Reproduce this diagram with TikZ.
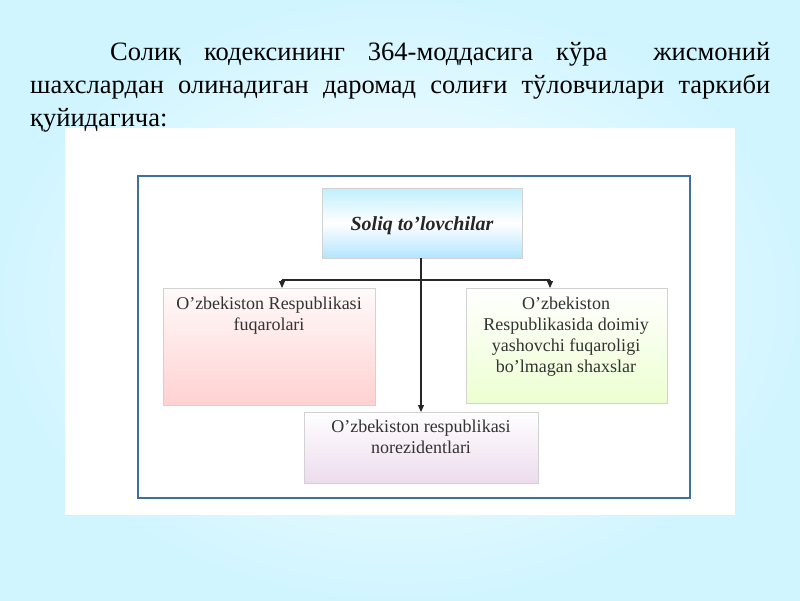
\documentclass[tikz,border=0pt]{standalone}
\usepackage{fontspec}
\setmainfont{Liberation Serif}
\usetikzlibrary{arrows.meta}
\begin{document}
\begin{tikzpicture}[x=1pt,y=-1pt,
  box/.style={draw=gray!35,line width=0.6pt},
  txt/.style={font=\fontsize{18}{21}\selectfont,text=black!80,align=center,anchor=north},
  arr/.style={-{Triangle[length=7pt,width=6pt]},line width=1.1pt,black!85}]
\useasboundingbox (0,0) rectangle (800,600);
\shade[inner color=white, outer color=blue!22!cyan!18] (0,0) rectangle (800,600);
\fill[white] (65,128) rectangle (735,515);
\node[anchor=north west,text width=740pt,align=justify,inner sep=0pt,
  font=\fontsize{26.5}{33}\selectfont] (title) at (30,42)
  {\hspace*{80pt}Солиқ кодексининг 364-моддасига кўра\ \ жисмоний\linebreak шахслардан олинадиган даромад солиғи тўловчилари таркиби\linebreak қуйидагича:};
\draw[draw=cyan!60!blue!70!black,line width=1.5pt] (138,176) rectangle (690,498);
% boxes
\shade[box,top color=blue!25!cyan!25,bottom color=blue!35!cyan!30,middle color=white] (322,188) rectangle (522,258);
\node[font=\fontsize{20}{22}\selectfont\bfseries\itshape,text=black!85] (top) at (422,226) {Soliq to’lovchilar};
\shade[box,top color=red!2,bottom color=red!18] (163,288) rectangle (375,405);
\node[txt] (left) at (269,293) {O’zbekiston Respublikasi\\fuqarolari};
\shade[box,top color=white,bottom color=green!40!yellow!18] (466,288) rectangle (667,403);
\node[txt] (right) at (566,293) {O’zbekiston\\Respublikasida doimiy\\yashovchi fuqaroligi\\bo’lmagan shaxslar};
\shade[box,top color=white,bottom color=violet!14] (304,412) rectangle (538,483);
\node[txt] (bot) at (421,416) {O’zbekiston respublikasi\\norezidentlari};
% connectors
\coordinate (tb) at (421,258);
\coordinate (bt) at (421,412);
\coordinate (hl) at (282,280);
\coordinate (hr) at (550,280);
\coordinate (lt) at (282,288);
\coordinate (rt) at (550,288);
\draw[arr] (tb) -- (bt);
\draw[line width=1.1pt,black!85] (hl) -- (hr);
\draw[arr] (hl) -- (lt);
\draw[arr] (hr) -- (rt);
\end{tikzpicture}
\end{document}
